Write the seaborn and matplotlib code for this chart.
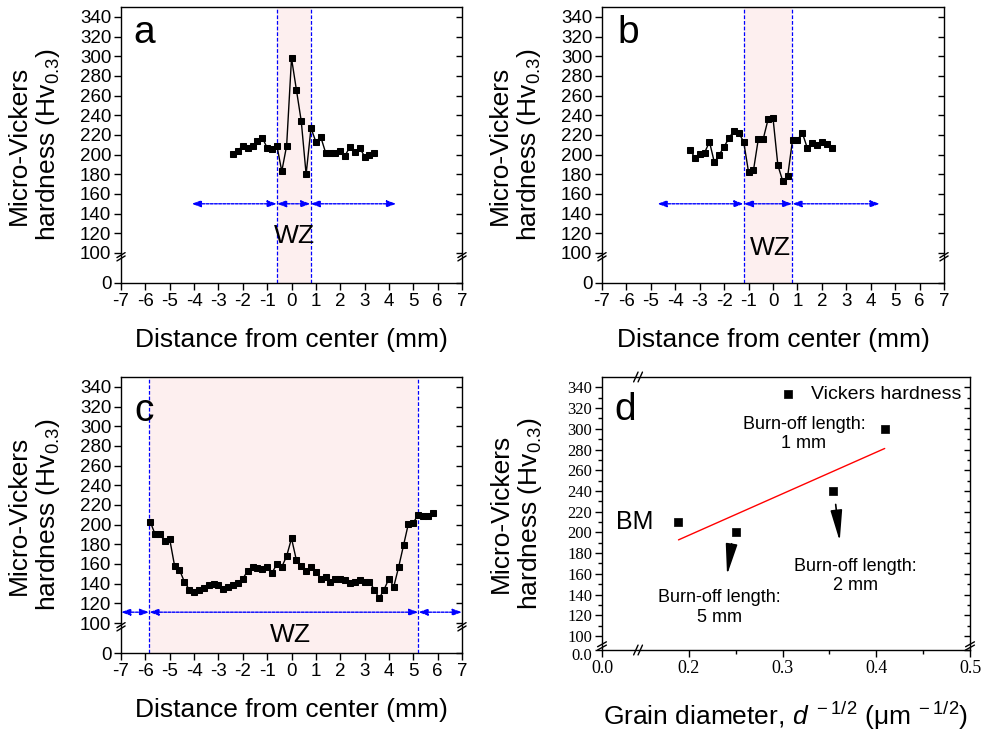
import numpy as np
import pandas as pd
import seaborn as sns
import matplotlib.pyplot as plt
from matplotlib.ticker import FixedLocator
from matplotlib.transforms import ScaledTranslation

# panel a: hardness profile, burn-off length 1 mm
xa = [-2.4, -2.2, -2.0, -1.8, -1.6, -1.4, -1.2, -1.0, -0.8, -0.6, -0.4, -0.2, 0.0, 0.2, 0.4,
      0.6, 0.8, 1.0, 1.2, 1.4, 1.6, 1.8, 2.0, 2.2, 2.4, 2.6, 2.8, 3.0, 3.2, 3.4]
ya = [201, 204, 209, 207, 209, 214, 217, 207, 206, 209, 183, 209, 298, 266, 234,
      180, 227, 213, 218, 202, 202, 202, 204, 199, 208, 203, 207, 198, 200, 202]
# panel b: burn-off length 2 mm
xb = [-3.4, -3.2, -3.0, -2.8, -2.6, -2.4, -2.2, -2.0, -1.8, -1.6, -1.4, -1.2, -1.0, -0.8, -0.6,
      -0.4, -0.2, 0.0, 0.2, 0.4, 0.6, 0.8, 1.0, 1.2, 1.4, 1.6, 1.8, 2.0, 2.2, 2.4]
yb = [205, 197, 201, 202, 213, 192, 200, 208, 217, 224, 222, 213, 182, 184, 216,
      216, 236, 237, 189, 173, 178, 215, 215, 222, 207, 212, 210, 213, 211, 207]
# panel c: burn-off length 5 mm
xc = [-5.8, -5.6, -5.4, -5.2, -5.0, -4.8, -4.6, -4.4, -4.2, -4.0, -3.8, -3.6, -3.4, -3.2, -3.0,
      -2.8, -2.6, -2.4, -2.2, -2.0, -1.8, -1.6, -1.4, -1.2, -1.0, -0.8, -0.6, -0.4, -0.2, 0.0,
      0.2, 0.4, 0.6, 0.8, 1.0, 1.2, 1.4, 1.6, 1.8, 2.0, 2.2, 2.4, 2.6, 2.8, 3.0,
      3.2, 3.4, 3.6, 3.8, 4.0, 4.2, 4.4, 4.6, 4.8, 5.0, 5.2, 5.4, 5.6, 5.8]
yc = [203, 190, 190, 183, 185, 158, 154, 142, 134, 132, 134, 136, 139, 140, 139,
      135, 137, 139, 141, 145, 153, 157, 156, 155, 157, 151, 160, 157, 168, 186,
      164, 158, 153, 157, 152, 145, 147, 142, 145, 145, 144, 141, 142, 144, 142,
      142, 134, 125, 134, 145, 137, 157, 179, 201, 202, 210, 209, 209, 212]
# weld zone edges (mm) and arrow ends for each panel
wz_a = [-0.6, 0.78]
wz_b = [-1.2, 0.79]
wz_c = [-5.84, 5.21]
arr_a = [-4.1, -0.6, 0.78, 4.3]
arr_b = [-4.73, -1.2, 0.79, 4.37]
arr_c = [-7.0, -5.84, 5.21, 7.0]
# panel d: hardness vs grain size
grain = [0.189, 0.25, 0.354, 0.409]
hard = [210, 200, 240, 300]

yticks = [0, 100, 120, 140, 160, 180, 200, 220, 240, 260, 280, 300, 320, 340]
xticks = [-7, -6, -5, -4, -3, -2, -1, 0, 1, 2, 3, 4, 5, 6, 7]

sns.set_style("ticks")
plt.rcParams['font.family'] = ['Liberation Sans', 'DejaVu Sans']
plt.rcParams['mathtext.fontset'] = 'custom'
plt.rcParams['mathtext.rm'] = 'Liberation Sans'
plt.rcParams['mathtext.it'] = 'Liberation Sans:italic'
plt.rcParams['axes.linewidth'] = 1.0
for k in ['text.color', 'axes.labelcolor', 'xtick.color', 'ytick.color', 'axes.edgecolor']:
    plt.rcParams[k] = 'black'

pink = '#fdefef'
blue = '#0000ff'


def fwd(y):
    y = np.asarray(y, float)
    return np.where(y >= 100, y, 69.5 + y * 0.305)


def inv(v):
    v = np.asarray(v, float)
    return np.where(v >= 100, v, (v - 69.5) / 0.305)


def fwd_dy(y):
    y = np.asarray(y, float)
    return np.where(y >= 100, y, 86.5 + y * 0.135)


def inv_dy(v):
    v = np.asarray(v, float)
    return np.where(v >= 100, v, (v - 86.5) / 0.135)


def fwd_dx(x):
    x = np.asarray(x, float)
    return np.where(x >= 0.15, x, 0.1074 + x * 0.284)


def inv_dx(v):
    v = np.asarray(v, float)
    return np.where(v >= 0.15, v, (v - 0.1074) / 0.284)


def brk(ax, x, y, dx=0.012, dy=0.018, gap=0.012, vertical=True):
    # two slanted strokes across a spine (axes coords)
    kw = dict(transform=ax.transAxes, color='black', lw=1, clip_on=False, zorder=10)
    for off in (-gap / 2, gap / 2):
        if vertical:
            ax.plot([x - dx, x + dx], [y + off - dy / 2, y + off + dy / 2], **kw)
        else:
            ax.plot([x + off - dx / 2, x + off + dx / 2], [y - dy, y + dy], **kw)


def right_ticks(ax, ticks, minor=None, f=fwd, i=inv, lim=(0, 350)):
    ax2 = ax.twinx()
    ax2.set_yscale('function', functions=(f, i))
    ax2.set_ylim(*lim)
    ax2.yaxis.set_major_locator(FixedLocator(ticks))
    if minor is not None:
        ax2.yaxis.set_minor_locator(FixedLocator(minor))
    ax2.tick_params(axis='y', which='both', direction='in', labelright=False, length=4, width=1)
    ax2.tick_params(axis='y', which='minor', length=2.5)
    for s in ax2.spines.values():
        s.set_visible(False)
    return ax2


fig = plt.figure(figsize=(9.88, 7.32), dpi=100)

panels = [
    ('a', [0.1225, 0.6134, 0.3451, 0.377], xa, ya, wz_a, arr_a, 150, 0.17, 0.14, (0.035, 0.87)),
    ('b', [0.6093, 0.6134, 0.3462, 0.377], xb, yb, wz_b, arr_b, 150, 0.127, -0.12, (0.044, 0.87)),
    ('c', [0.1225, 0.1079, 0.3451, 0.377], xc, yc, wz_c, arr_c, 111, 0.066, -0.06, (0.04, 0.84)),
]

for letter, rect, xs, ys, wz, arr, ay, wzy, wzx, lpos in panels:
    ax = fig.add_axes(rect)
    ax.set_yscale('function', functions=(fwd, inv))
    ax.axvspan(wz[0], wz[1], color=pink, zorder=0, lw=0)
    for xv in wz:
        ax.axvline(xv, color=blue, lw=0.9, ls=(0, (3, 1.5)), zorder=1)
    df = pd.DataFrame({'x': xs, 'y': ys})
    sns.lineplot(data=df, x='x', y='y', ax=ax, color='black', lw=1, marker='s',
                 markersize=5, markeredgecolor='black', zorder=5)
    for k in range(3):
        ax.annotate('', xy=(arr[k + 1], ay), xytext=(arr[k], ay),
                    arrowprops=dict(arrowstyle='<|-|>,head_length=0.5,head_width=0.18',
                                    color=blue, lw=1, ls=(0, (2, 1)), mutation_scale=11,
                                    shrinkA=0, shrinkB=0))
    ax.text(wzx, wzy, 'WZ', transform=ax.get_xaxis_transform(), ha='center', va='center',
            fontsize=19)
    ax.text(lpos[0], lpos[1], letter, transform=ax.transAxes, fontsize=28, va='baseline')
    ax.set_xlim(-7, 7)
    ax.set_ylim(0, 350)
    ax.set_xticks(xticks)
    ax.set_xticklabels([str(t) for t in xticks])
    ax.yaxis.set_major_locator(FixedLocator(yticks))
    ax.yaxis.set_minor_locator(FixedLocator([]))
    ax.set_yticklabels([str(t) for t in yticks])
    ax.tick_params(axis='both', labelsize=13.5, length=5, width=1, direction='out', pad=2)
    ax.set_xlabel('Distance from center (mm)', fontsize=19, labelpad=13)
    ax.set_ylabel('Micro-Vickers\nhardness (Hv$_{0.3}$)', fontsize=19, linespacing=1.15,
                  labelpad=13)
    for s in ax.spines.values():
        s.set_visible(True)
    right_ticks(ax, yticks)
    brk(ax, 0, 0.095)
    brk(ax, 1, 0.095)

# panel d
ax = fig.add_axes([0.6093, 0.112, 0.3725, 0.373])
ax.set_xscale('function', functions=(fwd_dx, inv_dx))
ax.set_yscale('function', functions=(fwd_dy, inv_dy))
dfd = pd.DataFrame({'d': grain, 'hv': hard})
sns.regplot(data=dfd, x='d', y='hv', ax=ax, scatter=False, ci=None, color='red',
            line_kws=dict(lw=1))
sns.scatterplot(data=dfd, x='d', y='hv', ax=ax, marker='s', color='black', s=40,
                edgecolor='black', label='Vickers hardness', zorder=5)
ax.legend(loc='upper right', frameon=False, fontsize=14, handletextpad=0.2,
          borderaxespad=0.05, markerscale=1.0)
ax.annotate('', xy=(0.2408, 159), xytext=(0.2457, 189),
            arrowprops=dict(arrowstyle='-|>,head_length=0.95,head_width=0.18',
                            color='black', lw=1.2, mutation_scale=20, shrinkA=0, shrinkB=0))
ax.annotate('', xy=(0.361, 191.6), xytext=(0.3567, 227),
            arrowprops=dict(arrowstyle='-|>,head_length=0.95,head_width=0.18',
                            color='black', lw=1.2, mutation_scale=20, shrinkA=0, shrinkB=0))
ax.text(0.3227, 295, 'Burn-off length:\n1 mm', ha='center', va='center', fontsize=13)
ax.text(0.378, 158, 'Burn-off length:\n2 mm', ha='center', va='center', fontsize=13)
ax.text(0.2326, 127.7, 'Burn-off length:\n5 mm', ha='center', va='center', fontsize=13)
ax.text(0.0897, 0.469, 'BM', transform=ax.transAxes, ha='center', va='center', fontsize=18)
ax.text(0.035, 0.842, 'd', transform=ax.transAxes, fontsize=28, va='baseline')
ax.set_xlim(0, 0.5)
ax.set_ylim(0, 350)
dx_ticks = [0.0, 0.2, 0.3, 0.4, 0.5]
dy_ticks = yticks
dy_minor = [110, 130, 150, 170, 190, 210, 230, 250, 270, 290, 310, 330]
ax.xaxis.set_major_locator(FixedLocator(dx_ticks))
ax.xaxis.set_minor_locator(FixedLocator([0.25, 0.35, 0.45]))
ax.set_xticklabels(['0.0', '0.2', '0.3', '0.4', '0.5'])
ax.yaxis.set_major_locator(FixedLocator(dy_ticks))
ax.yaxis.set_minor_locator(FixedLocator(dy_minor))
ax.set_yticklabels(['0.0'] + [str(t) for t in dy_ticks[1:]])
ax.tick_params(axis='x', which='major', labelsize=13, length=5, width=1, direction='out', pad=2)
ax.tick_params(axis='y', which='major', labelsize=12, length=5, width=1, direction='out', pad=2)
ax.tick_params(axis='both', which='minor', length=3, width=1, direction='out')
for lbl in ax.get_xticklabels() + ax.get_yticklabels():
    lbl.set_fontfamily('Liberation Serif')
ax.set_xlabel('Grain diameter, $\\mathit{d}^{\\ -1/2}$ (\u03bcm$^{\\ -1/2}$)', fontsize=19,
              labelpad=17)
ax.set_ylabel('Micro-Vickers\nhardness (Hv$_{0.3}$)', fontsize=19, linespacing=1.15,
              labelpad=17)
for s in ax.spines.values():
    s.set_visible(True)
right_ticks(ax, dy_ticks, dy_minor, fwd_dy, inv_dy)
brk(ax, 0.098, 1, vertical=False)
brk(ax, 0.098, 0, vertical=False)
brk(ax, 0, 0.015)
brk(ax, 1, 0.015)

# nudge the crowded "0.0" label on panel d a little downwards
zero_lbl = ax.yaxis.get_major_ticks()[0].label1
zero_lbl.set_transform(zero_lbl.get_transform() + ScaledTranslation(0, -3 / 72, fig.dpi_scale_trans))

plt.savefig('out.png', dpi=100)
